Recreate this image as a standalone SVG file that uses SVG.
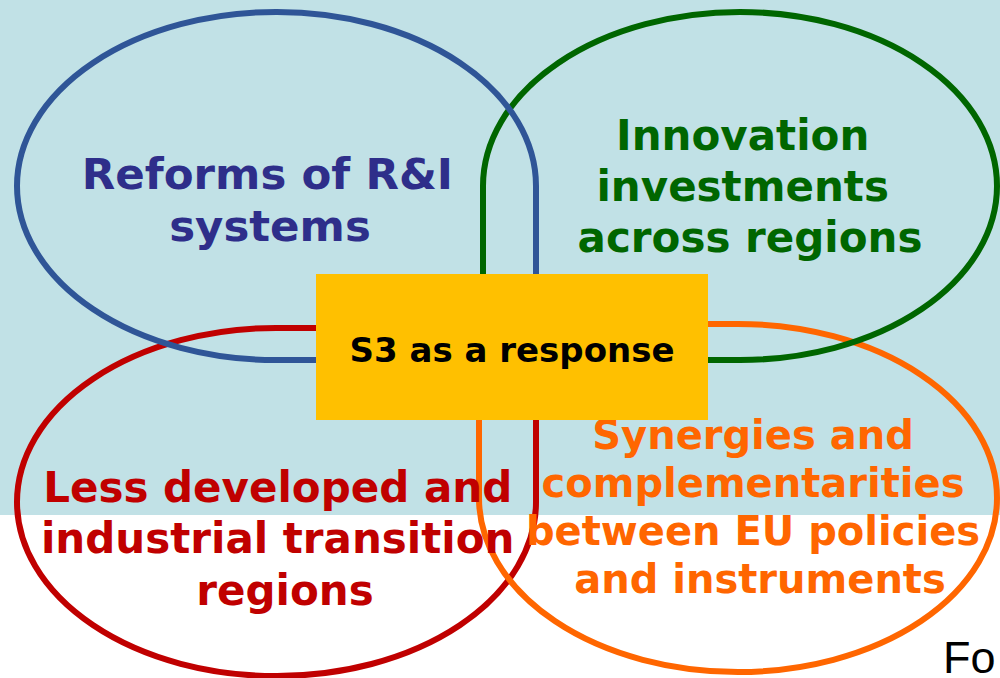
<svg xmlns="http://www.w3.org/2000/svg" width="1000" height="678" viewBox="0 0 1000 678">
  <style>
    .ring { fill: none; stroke-width: 6; }
    .lbl { font-family: "DejaVu Sans", Verdana, sans-serif; font-weight: bold; text-anchor: middle; }
  </style>
  <!-- backdrop -->
  <rect x="0" y="0" width="1000" height="678" fill="#ffffff"/>
  <rect x="0" y="0" width="1000" height="515" fill="#c1e1e6"/>

  <!-- outlines: each is an ellipse whose inner quadrant is squared off -->
  <g id="connectors">
    <path id="ring-red" class="ring" stroke="#c00000" d="M 276 328 L 536 328 L 536 502 A 259 174 0 0 1 276 676 A 259 174 0 0 1 17 502 A 259 174 0 0 1 276 328 Z"/>
    <path id="ring-orange" class="ring" stroke="#ff6600" d="M 479 498 L 479 324 L 738 324 A 259 174 0 0 1 997 498 A 259 174 0 0 1 738 672 A 259 174 0 0 1 479 498 Z"/>
    <path id="ring-green" class="ring" stroke="#006600" d="M 483 360 L 483 186 A 257 174 0 0 1 740 12 A 257 174 0 0 1 997 186 A 257 174 0 0 1 740 360 Z"/>
    <path id="ring-blue" class="ring" stroke="#2f5597" d="M 536 360 L 276 360 A 259 174 0 0 1 17 186 A 259 174 0 0 1 276 12 A 259 174 0 0 1 536 186 Z"/>
  </g>

  <g id="node-reforms">
    <text class="lbl" fill="#2e2e8a" font-size="43.5">
      <tspan x="275" y="189">Reforms of R&amp;I</tspan>
      <tspan x="270" y="241">systems</tspan>
    </text>
  </g>

  <g id="node-innovation">
    <text class="lbl" fill="#006600" font-size="42">
      <tspan x="750" y="150">Innovation</tspan>
      <tspan x="750" y="201">investments</tspan>
      <tspan x="750" y="252">across regions</tspan>
    </text>
  </g>

  <g id="node-less-developed">
    <text class="lbl" fill="#c00000" font-size="42">
      <tspan x="285" y="502">Less developed and</tspan>
      <tspan x="285" y="553">industrial transition</tspan>
      <tspan x="285" y="605">regions</tspan>
    </text>
  </g>

  <g id="node-synergies">
    <text class="lbl" fill="#ff6600" font-size="40">
      <tspan x="760" y="449">Synergies and</tspan>
      <tspan x="760" y="497">complementarities</tspan>
      <tspan x="760" y="545">between EU policies</tspan>
      <tspan x="760" y="593">and instruments</tspan>
    </text>
  </g>

  <g id="node-s3">
    <rect x="316" y="274" width="392" height="146" fill="#ffc000"/>
    <text class="lbl" fill="#000000" font-size="34" x="512" y="362">S3 as a response</text>
  </g>

  <g id="footer">
    <text x="943" y="673" font-family="'Liberation Sans', Arial, sans-serif" font-size="45" fill="#000000">Fo</text>
  </g>
</svg>
